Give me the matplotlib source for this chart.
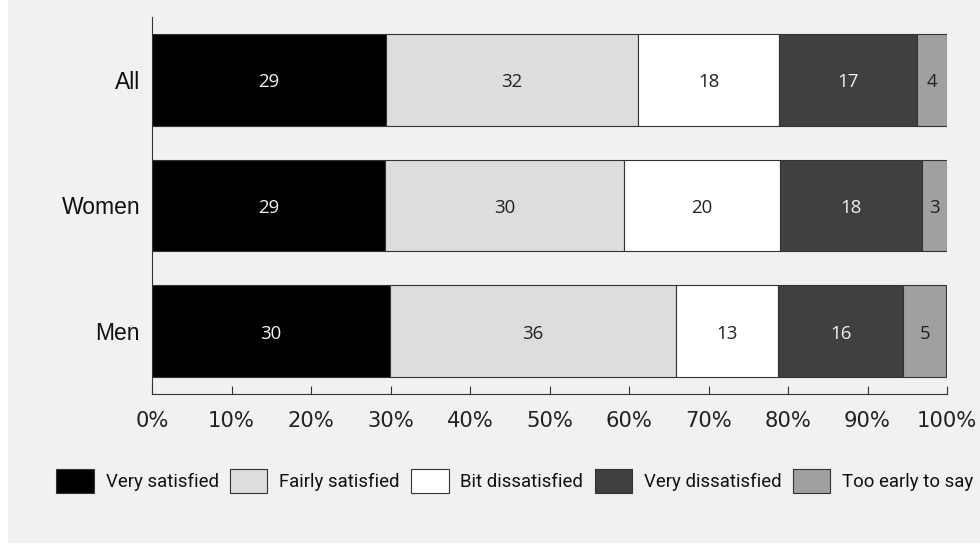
import matplotlib
matplotlib.use('Agg')
import matplotlib.pyplot as plt
from matplotlib.patches import Patch, Rectangle

# data, bottom row first
groups = ['Men', 'Women', 'All']
series = ['Very satisfied', 'Fairly satisfied', 'Bit dissatisfied',
          'Very dissatisfied', 'Too early to say']
very_satisfied = [29.9, 29.3, 29.4]
fairly_satisfied = [36.0, 30.1, 31.7]
bit_dissatisfied = [12.8, 19.6, 17.8]
very_dissatisfied = [15.8, 17.8, 17.3]
too_early = [5.4, 3.2, 3.8]
shown_labels = [
    [30, 29, 29],
    [36, 30, 32],
    [13, 20, 18],
    [16, 18, 17],
    [5, 3, 4],
]
x_ticks = [0, 10, 20, 30, 40, 50, 60, 70, 80, 90, 100]

colors = ['#000000', '#dddddd', '#ffffff', '#404040', '#a0a0a0']
text_colors = ['#f2f2f2', '#222222', '#222222', '#f0f0f0', '#222222']

fig = plt.figure(figsize=(9.8, 5.47), dpi=100)
fig.patch.set_facecolor('white')
fig.patches.append(Rectangle((8/980, 4/547), 1 - 8/980, 1 - 4/547,
                             transform=fig.transFigure, facecolor='#f1f1f1',
                             edgecolor='none', zorder=-10))

ax = fig.add_axes([152/980, 153/547, 795/980, 377/547])
ax.set_facecolor('none')

values = [very_satisfied, fairly_satisfied, bit_dissatisfied, very_dissatisfied, too_early]
pos = list(range(len(groups)))
left = [0.0] * len(groups)
for i, vals in enumerate(values):
    bars = ax.barh(pos, vals, left=left, height=0.73, color=colors[i],
                   edgecolor='#333333', linewidth=0.8, label=series[i])
    # labels sit a touch below the bar centre, as in the original
    for j, b in enumerate(bars):
        ax.text(b.get_x() + b.get_width() / 2, pos[j] - 0.02, str(shown_labels[i][j]),
                ha='center', va='center', color=text_colors[i],
                fontsize=13.4, family='Open Sans')
    left = [l + v for l, v in zip(left, vals)]

ax.set_xlim(0, 100)
ax.set_ylim(-0.5, 2.5)
ax.set_xticks(x_ticks)
ax.set_xticklabels([f'{t}%' for t in x_ticks], fontsize=15.2, family='DejaVu Sans', color='#222222')
ax.set_yticks(pos)
ax.set_yticklabels(groups, fontsize=16.5, family='Liberation Sans', color='#111111')
ax.tick_params(axis='x', direction='in', length=5.8, width=0.8, color='#333333', pad=12)
ax.tick_params(axis='y', length=0, pad=8.6)
for s in ['top', 'right']:
    ax.spines[s].set_visible(False)
for s in ['left', 'bottom']:
    ax.spines[s].set_color('#333333')
    ax.spines[s].set_linewidth(0.8)

handles = [Patch(facecolor=c, edgecolor='#333333', linewidth=0.8) for c in colors]
fig.legend(handles, series, loc='center', bbox_to_anchor=(515/980, 66/547), ncol=5,
           frameon=False, prop={'family': 'Roboto', 'size': 13.4},
           handlelength=2.0, handleheight=1.55, handletextpad=0.64,
           columnspacing=0.62, borderpad=0, labelcolor='#111111')

fig.savefig('out.png', dpi=100, facecolor=fig.get_facecolor())
